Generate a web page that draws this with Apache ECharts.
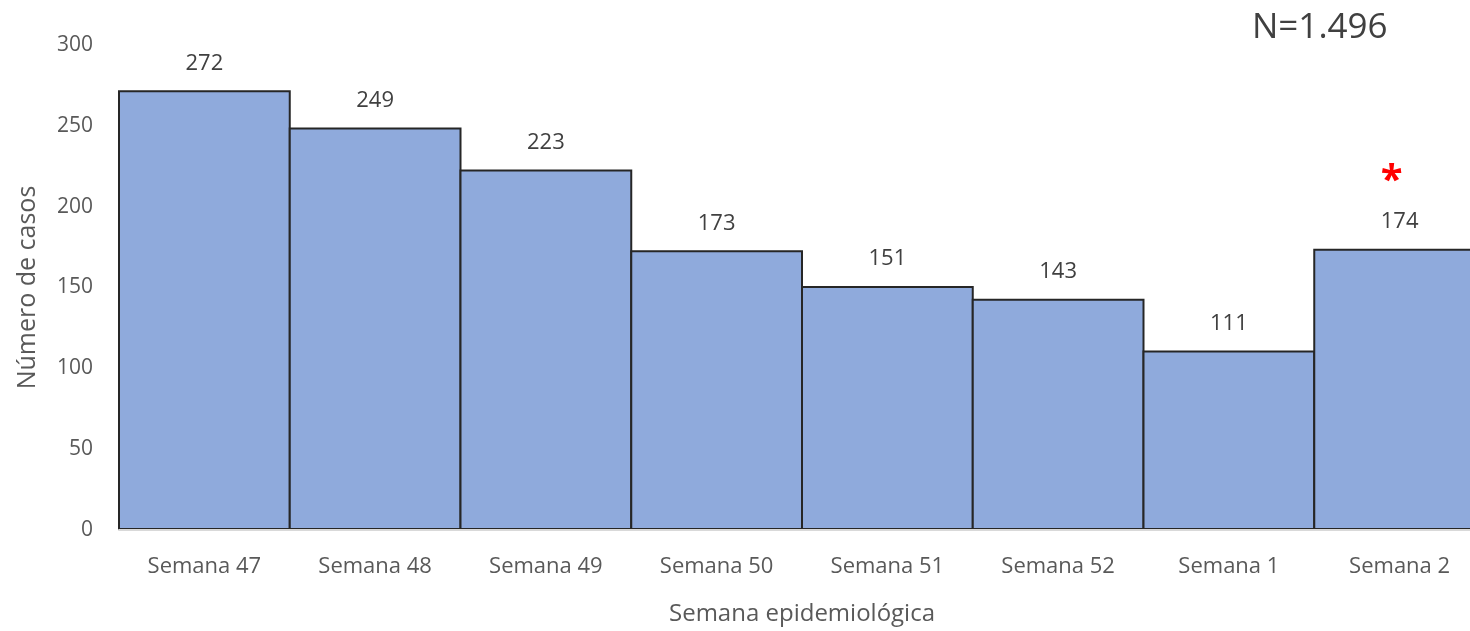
<!DOCTYPE html>
<html>
<head>
<meta charset="utf-8">
<script src="https://cdn.jsdelivr.net/npm/echarts@6/dist/echarts.min.js"></script>
<style>
  html, body { margin: 0; padding: 0; background: #fff; }
  #main { width: 1470px; height: 631px; }
</style>
</head>
<body>
<div id="main"></div>
<script>
// datos del gráfico
var semanas = ['Semana 47', 'Semana 48', 'Semana 49', 'Semana 50', 'Semana 51', 'Semana 52', 'Semana 1', 'Semana 2'];
var casos = [272, 249, 223, 173, 151, 143, 111, 174];
var marcada = 'Semana 2'; // semana con asterisco
var yTicks = [0, 50, 100, 150, 200, 250, 300];

var font = '"Open Sans", sans-serif';
var myChart = echarts.init(document.getElementById('main'));

myChart.setOption({
  animation: false,
  textStyle: { fontFamily: font },
  title: {
    text: 'N=1.496',
    left: 1247,
    top: 6,
    textStyle: { fontFamily: font, fontSize: 35, fontWeight: 'normal', color: '#404040' }
  },
  grid: { left: 119, top: 45, width: 1366, height: 485, outerBoundsMode: 'none', containLabel: false },
  xAxis: {
    type: 'category',
    data: semanas,
    z: 5,
    name: 'Semana epidemiológica',
    nameLocation: 'middle',
    nameGap: 72,
    nameTextStyle: { fontSize: 24, color: '#595959', fontFamily: font },
    axisLine: { lineStyle: { color: '#d9d9d9', width: 2 } },
    axisTick: { show: false },
    axisLabel: { fontSize: 22, color: '#595959', margin: 26, fontFamily: font }
  },
  yAxis: {
    type: 'value',
    min: yTicks[0],
    max: yTicks[yTicks.length - 1],
    interval: 50,
    name: 'Número de casos',
    nameLocation: 'middle',
    nameGap: 79,
    nameTextStyle: { fontSize: 25, color: '#595959', fontFamily: font },
    axisLine: { show: false },
    axisTick: { show: false },
    splitLine: { show: false },
    axisLabel: { fontSize: 21, color: '#595959', margin: 26, fontFamily: font }
  },
  series: [{
    type: 'bar',
    data: casos,
    barWidth: 172.75,
    itemStyle: { color: '#8faadc', borderColor: '#262626', borderWidth: 2 },
    label: {
      show: true,
      position: 'top',
      distance: 15,
      color: '#404040',
      fontFamily: font,
      formatter: function (p) {
        if (p.name === marcada) return '{ast|*}\n{v|' + p.value + '}';
        return '{v|' + p.value + '}';
      },
      rich: {
        v: { fontSize: 22, color: '#404040', fontFamily: font, lineHeight: 24 },
        ast: { fontSize: 40, fontWeight: 'bold', color: '#ff0000', fontFamily: font, lineHeight: 56, padding: [0, 16, 0, 0] }
      }
    }
  }]
});
</script>
</body>
</html>
